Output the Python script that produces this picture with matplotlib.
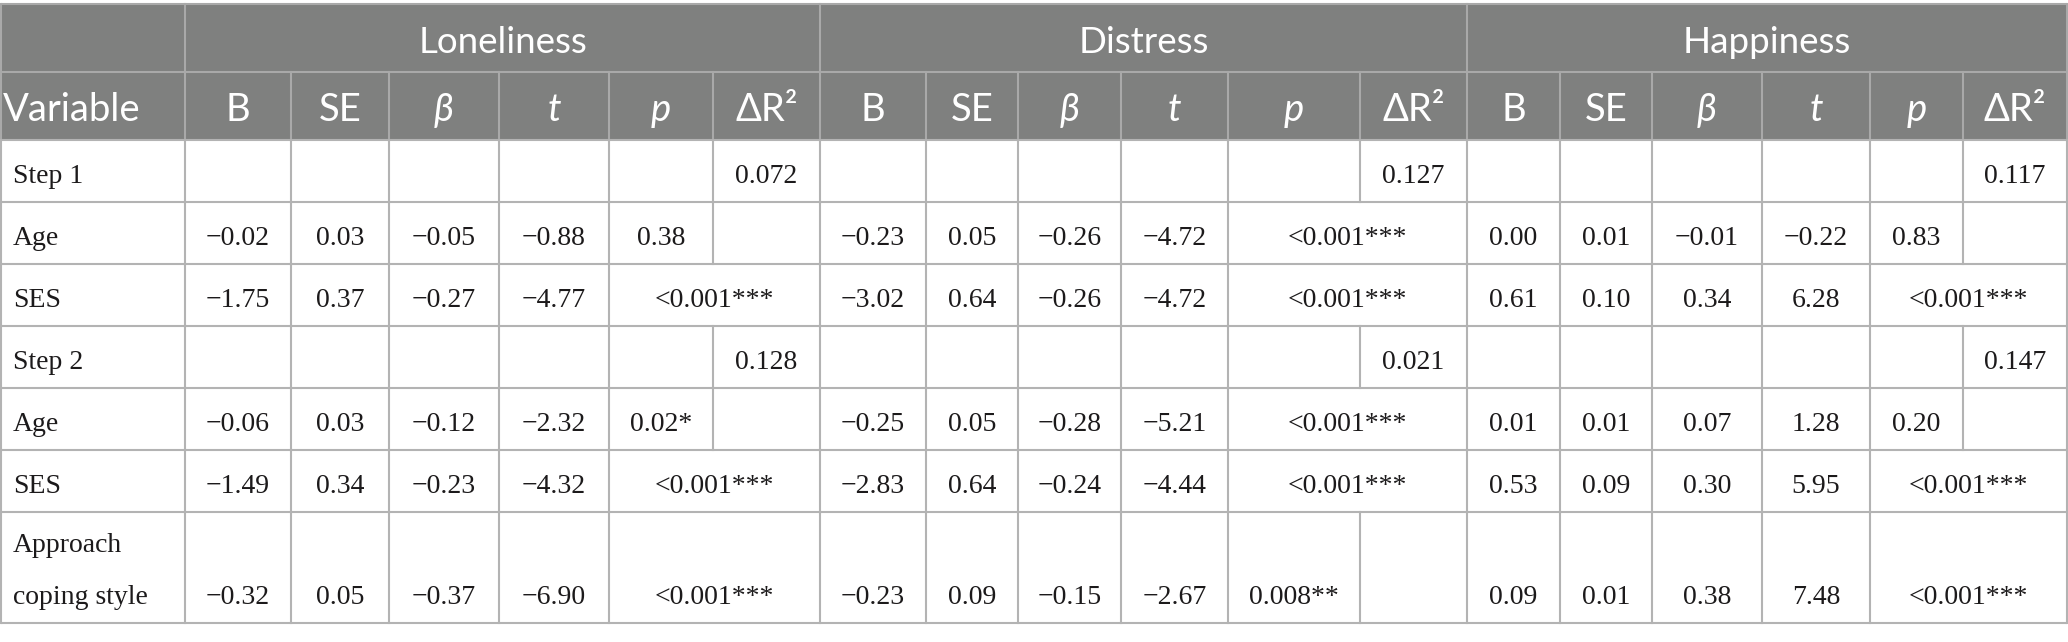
import matplotlib
matplotlib.use("Agg")
import matplotlib.pyplot as plt
from matplotlib.patches import Rectangle

# table content
outcomes = ["Loneliness", "Distress", "Happiness"]
stat_headers = ["B", "SE", "β", "t", "p", "ΔR²"]
italic_headers = {"β", "t", "p"}
row_labels = ["Step 1", "Age", "SES", "Step 2", "Age", "SES", "Approach\ncoping style"]

loneliness = [
    ["", "", "", "", "", "0.072"],
    ["−0.02", "0.03", "−0.05", "−0.88", "0.38", ""],
    ["−1.75", "0.37", "−0.27", "−4.77", "<0.001***", ""],
    ["", "", "", "", "", "0.128"],
    ["−0.06", "0.03", "−0.12", "−2.32", "0.02*", ""],
    ["−1.49", "0.34", "−0.23", "−4.32", "<0.001***", ""],
    ["−0.32", "0.05", "−0.37", "−6.90", "<0.001***", ""],
]
distress = [
    ["", "", "", "", "", "0.127"],
    ["−0.23", "0.05", "−0.26", "−4.72", "<0.001***", ""],
    ["−3.02", "0.64", "−0.26", "−4.72", "<0.001***", ""],
    ["", "", "", "", "", "0.021"],
    ["−0.25", "0.05", "−0.28", "−5.21", "<0.001***", ""],
    ["−2.83", "0.64", "−0.24", "−4.44", "<0.001***", ""],
    ["−0.23", "0.09", "−0.15", "−2.67", "0.008**", ""],
]
happiness = [
    ["", "", "", "", "", "0.117"],
    ["0.00", "0.01", "−0.01", "−0.22", "0.83", ""],
    ["0.61", "0.10", "0.34", "6.28", "<0.001***", ""],
    ["", "", "", "", "", "0.147"],
    ["0.01", "0.01", "0.07", "1.28", "0.20", ""],
    ["0.53", "0.09", "0.30", "5.95", "<0.001***", ""],
    ["0.09", "0.01", "0.38", "7.48", "<0.001***", ""],
]
groups = [loneliness, distress, happiness]

# layout (pixels)
col_edges = [1, 185, 291, 389, 499, 609, 713, 820, 926, 1018, 1121, 1228,
             1360, 1467, 1560, 1652, 1762, 1870, 1963, 2067]
row_edges = [4, 72, 140, 202, 264, 326, 388, 450, 512, 623]

HEAD_BG = "#7f807f"
LINE = "#b3b3b3"
HEAD_LINE = "#a9a9a9"
TEXT = "#1c1a1b"
HEAD_FONT = ["Lato", "DejaVu Sans"]
BODY_FONT = ["Liberation Serif", "DejaVu Serif"]
GROUP_SIZE = 26.5
HEAD_SIZE = 27.5
BODY_SIZE = 20

fig = plt.figure(figsize=(20.68, 6.42), dpi=100)
ax = fig.add_axes([0, 0, 1, 1])
ax.set_xlim(0, 2068)
ax.set_ylim(642, 0)
ax.axis("off")

x0, x1 = col_edges[0], col_edges[-1]
ax.add_patch(Rectangle((x0, row_edges[0]), x1 - x0, row_edges[2] - row_edges[0],
                       facecolor=HEAD_BG, edgecolor="none", zorder=0))

# horizontal rules
for i, y in enumerate(row_edges):
    ax.plot([x0, x1], [y, y], color=HEAD_LINE if i < 2 else LINE, lw=1.5,
            solid_capstyle="butt", zorder=2)

# vertical rules, header row 1: only group boundaries
for ci in [0, 1, 7, 13, 19]:
    ax.plot([col_edges[ci]] * 2, [row_edges[0], row_edges[1]], color=HEAD_LINE,
            lw=1.5, zorder=2)
# header row 2
for x in col_edges:
    ax.plot([x, x], [row_edges[1], row_edges[2]], color=HEAD_LINE, lw=1.5, zorder=2)

# body rows, p and delta R2 share a cell when p is "<0.001"
for r in range(len(row_labels)):
    top, bot = row_edges[r + 2], row_edges[r + 3]
    for ci, x in enumerate(col_edges):
        if ci in (6, 12, 18):
            g = (ci - 6) // 6
            if groups[g][r][4].startswith("<"):
                continue
        ax.plot([x, x], [top, bot], color=LINE, lw=1.5, zorder=2)

# header text
for g, name in enumerate(outcomes):
    xa, xb = col_edges[1 + 6 * g], col_edges[7 + 6 * g]
    ax.text((xa + xb) / 2, 53, name, ha="center", va="baseline", color="white",
            fontsize=GROUP_SIZE, family=HEAD_FONT)
ax.text(3, 121, "Variable", ha="left", va="baseline", color="white",
        fontsize=HEAD_SIZE, family=HEAD_FONT)
for g in range(len(outcomes)):
    for c, h in enumerate(stat_headers):
        ci = 1 + 6 * g + c
        xm = (col_edges[ci] + col_edges[ci + 1]) / 2
        ax.text(xm, 121, h, ha="center", va="baseline", color="white",
                fontsize=HEAD_SIZE, family=HEAD_FONT,
                style="italic" if h in italic_headers else "normal")

# body text
for r, label in enumerate(row_labels):
    top, bot = row_edges[r + 2], row_edges[r + 3]
    lines = label.split("\n")
    if len(lines) > 1:
        base = bot - 19
        for k, line in enumerate(lines):
            ax.text(13, base - 52 * (len(lines) - 1 - k), line, ha="left",
                    va="baseline", color=TEXT, fontsize=BODY_SIZE, family=BODY_FONT)
    else:
        base = top + 43
        ax.text(13, base, label, ha="left", va="baseline", color=TEXT,
                fontsize=BODY_SIZE, family=BODY_FONT)
    for g, data in enumerate(groups):
        vals = data[r]
        for c, v in enumerate(vals):
            if not v:
                continue
            ci = 1 + 6 * g + c
            if c == 4 and v.startswith("<"):
                xm = (col_edges[ci] + col_edges[ci + 2]) / 2
            else:
                xm = (col_edges[ci] + col_edges[ci + 1]) / 2
            ax.text(xm, base, v, ha="center", va="baseline", color=TEXT,
                    fontsize=BODY_SIZE, family=BODY_FONT)

fig.savefig("out.png", dpi=100, facecolor="white")
